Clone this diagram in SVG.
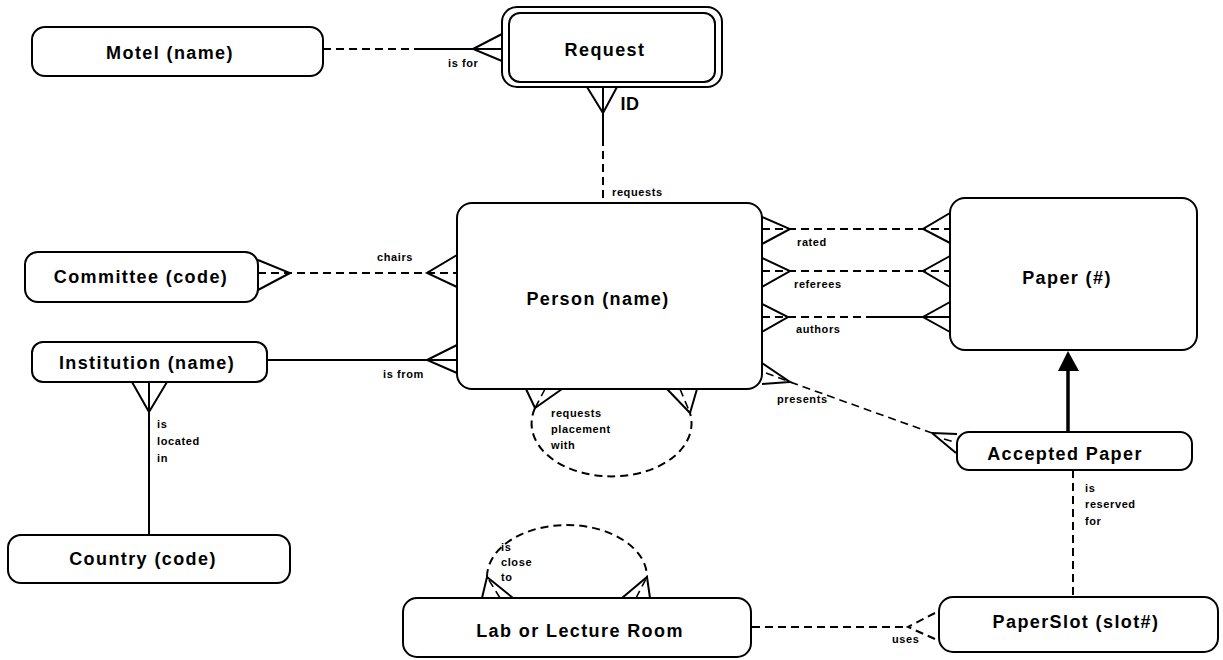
<svg xmlns="http://www.w3.org/2000/svg" width="1223" height="660" viewBox="0 0 1223 660">
<style>
.box{fill:#fff;stroke:#000;stroke-width:2}
.ent{font-family:"Liberation Sans",Arial,sans-serif;font-weight:bold;font-size:18px;letter-spacing:1.4px;text-anchor:middle;fill:#000}
.lbl{font-family:"Liberation Sans",Arial,sans-serif;font-weight:bold;font-size:11px;letter-spacing:0.6px;fill:#000}
.s{fill:none;stroke:#000;stroke-width:2}
.d{fill:none;stroke:#000;stroke-width:2;stroke-dasharray:8 5}
</style>
<rect width="1223" height="660" fill="#fff"/>
<g id="connectors">
  <!-- Motel - Request -->
  <path class="d" d="M323,49 L420,49"/>
  <path class="s" d="M420,49 L502,49 M502,34 L473,49 L502,61"/>
  <text class="lbl" x="448" y="67">is for</text>
  <!-- Request - Person -->
  <path class="s" d="M587,87 L603,113 L617,87 M603,87 L603,138"/>
  <path class="d" d="M603,138 L603,203"/>
  <text class="ent" x="630" y="110" style="letter-spacing:0.5px">ID</text>
  <text class="lbl" x="612" y="196">requests</text>
  <!-- Committee - Person -->
  <path class="d" d="M258,273 L457,273"/>
  <path class="s" d="M258,260 L290,273 L258,290 M457,255 L427,273 L457,287"/>
  <text class="lbl" x="377" y="261">chairs</text>
  <!-- Institution - Person -->
  <path class="s" d="M267,360 L457,360 M457,345 L427,360 L457,373"/>
  <text class="lbl" x="383" y="378">is from</text>
  <!-- Institution - Country -->
  <path class="s" d="M149,382 L149,535 M132,382 L149,412 L167,382"/>
  <text class="lbl" x="157" y="428">is</text>
  <text class="lbl" x="157" y="445">located</text>
  <text class="lbl" x="157" y="462">in</text>
  <!-- rated -->
  <path class="d" d="M762,229 L950,229"/>
  <path class="s" d="M762,217 L790,229 L762,244 M950,213 L923,229 L950,243"/>
  <text class="lbl" x="797" y="246">rated</text>
  <!-- referees -->
  <path class="d" d="M762,271 L950,271"/>
  <path class="s" d="M762,258 L790,271 L762,287 M950,256 L923,271 L950,287"/>
  <text class="lbl" x="794" y="288">referees</text>
  <!-- authors -->
  <path class="d" d="M762,317 L873,317"/>
  <path class="s" d="M873,317 L950,317 M762,304 L788,317 L762,332 M950,302 L923,317 L950,332"/>
  <text class="lbl" x="796" y="333">authors</text>
  <!-- presents -->
  <path class="s" d="M762,363 L790,382 L762,384 M932,433 L957,434 M932,433 L956,453"/>
  <path class="d" d="M766,373 L790,382 L932,433 M944,439 L957,443" style="stroke-width:1.6"/>
  <text class="lbl" x="777" y="403">presents</text>
  <!-- Accepted Paper isa Paper -->
  <path class="s" d="M1068,432 L1068,368" style="stroke-width:3.5"/>
  <path d="M1068,351 L1058,371 L1079,371 Z" fill="#000"/>
  <!-- is reserved for -->
  <path class="d" d="M1073,470 L1073,597"/>
  <text class="lbl" x="1085" y="492">is</text>
  <text class="lbl" x="1085" y="508">reserved</text>
  <text class="lbl" x="1085" y="525">for</text>
  <!-- uses -->
  <path class="d" d="M752,627 L908,627 M935,613 L908,627 L935,639"/>
  <text class="lbl" x="892" y="643">uses</text>
  <!-- requests placement with (Person loop) -->
  <path class="d" d="M535,408 A80,53 0 1 0 690,413"/>
  <path class="s" d="M526,389 L535,408 L562,389 M667,389 L690,413 L697,389"/>
  <path class="d" d="M545,389 L535,408 M680,389 L690,413" style="stroke-width:1.6"/>
  <text class="lbl" x="551" y="417">requests</text>
  <text class="lbl" x="551" y="433">placement</text>
  <text class="lbl" x="551" y="449">with</text>
  <!-- is close to (Lab loop) -->
  <path class="d" d="M487,577 A80,52 0 1 1 647,577"/>
  <path class="s" d="M482,598 L487,577 L513,598 M622,598 L647,577 L650,598"/>
  <path class="d" d="M500,598 L487,577 M636,598 L647,577" style="stroke-width:1.6"/>
  <text class="lbl" x="501" y="551">is</text>
  <text class="lbl" x="501" y="566">close</text>
  <text class="lbl" x="501" y="581">to</text>
</g>
<g id="motel">
  <rect class="box" x="32" y="27" width="291" height="49" rx="13"/>
  <text class="ent" x="170" y="59">Motel (name)</text>
</g>
<g id="request">
  <rect class="box" x="502" y="7" width="220" height="80" rx="15"/>
  <rect class="box" x="509" y="13" width="206" height="69" rx="11"/>
  <text class="ent" x="605" y="56">Request</text>
</g>
<g id="committee">
  <rect class="box" x="25" y="252" width="233" height="50" rx="13"/>
  <text class="ent" x="141" y="283">Committee (code)</text>
</g>
<g id="institution">
  <rect class="box" x="32" y="342" width="235" height="40" rx="11"/>
  <text class="ent" x="147" y="369">Institution (name)</text>
</g>
<g id="country">
  <rect class="box" x="8" y="535" width="282" height="48" rx="13"/>
  <text class="ent" x="143" y="565">Country (code)</text>
</g>
<g id="person">
  <rect class="box" x="457" y="203" width="305" height="186" rx="15"/>
  <text class="ent" x="598" y="305">Person (name)</text>
</g>
<g id="paper">
  <rect class="box" x="950" y="198" width="247" height="152" rx="15"/>
  <text class="ent" x="1067" y="284">Paper (#)</text>
</g>
<g id="accepted-paper">
  <rect class="box" x="957" y="432" width="235" height="38" rx="12"/>
  <text class="ent" x="1065" y="460">Accepted Paper</text>
</g>
<g id="paperslot">
  <rect class="box" x="939" y="597" width="279" height="55" rx="14"/>
  <text class="ent" x="1076" y="628">PaperSlot (slot#)</text>
</g>
<g id="lab-room">
  <rect class="box" x="403" y="598" width="348" height="59" rx="14"/>
  <text class="ent" x="580" y="637">Lab or Lecture Room</text>
</g>
</svg>
